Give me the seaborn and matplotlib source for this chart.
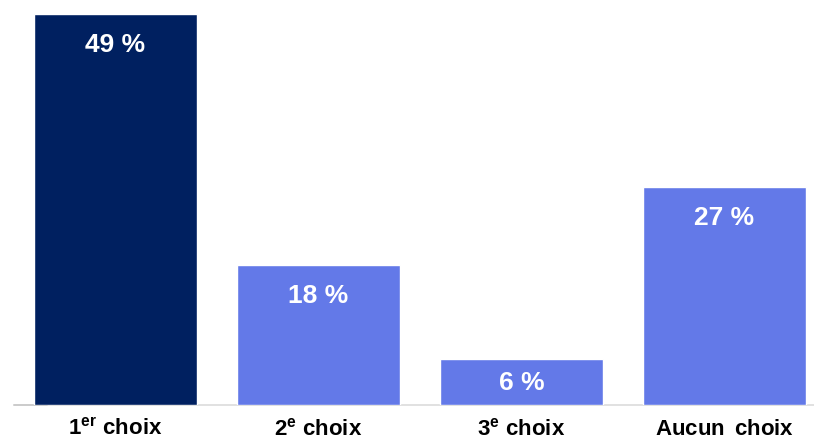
import matplotlib
matplotlib.use("Agg")
import matplotlib.pyplot as plt
import seaborn as sns
import pandas as pd
from matplotlib.transforms import blended_transform_factory, offset_copy

categories = ["1er choix", "2e choix", "3e choix", "Aucun choix"]
tick_labels = [r"$\mathrm{1^{er}\ choix}$", r"$\mathrm{2^{e}\ choix}$",
               r"$\mathrm{3^{e}\ choix}$", r"$\mathrm{Aucun\ \,choix}$"]
values = [49, 17.5, 5.8, 27.3]
value_labels = ["49 %", "18 %", "6 %", "27 %"]
bar_colors = ["#002060", "#6379E8", "#6379E8", "#6379E8"]

sns.set_style("white")
plt.rcParams["font.family"] = ["Liberation Sans", "DejaVu Sans"]
plt.rcParams["mathtext.fontset"] = "custom"
plt.rcParams["mathtext.rm"] = "Liberation Sans:bold"
plt.rcParams["mathtext.it"] = "Liberation Sans:bold"
plt.rcParams["mathtext.bf"] = "Liberation Sans:bold"

W, H = 814, 439
fig = plt.figure(figsize=(W / 100, H / 100), dpi=100)
ax = fig.add_axes([14 / W, 33 / H, 800 / W, 391 / H])

df = pd.DataFrame({"cat": categories, "val": values})
sns.barplot(data=df, x="cat", y="val", hue="cat", palette=bar_colors,
            width=0.8, saturation=1, legend=False, ax=ax)

ax.set_xlim(-0.5, 800 / 203 - 0.5)
ax.set_ylim(0, 49)
for s in ax.spines.values():
    s.set_visible(False)
ax.axhline(0, color="#DCDCDC", lw=1.2, clip_on=False, zorder=0)
ax.plot([0, 33 / 800], [0, 0], transform=ax.transAxes, color="#C8C8C8",
        lw=1.2, clip_on=False, zorder=0)
ax.set_yticks([])
ax.set_xticks([])
ax.set_xlabel("")
ax.set_ylabel("")

px_per_unit = 391 / 49
for i, (v, lab) in enumerate(zip(values, value_labels)):
    off_px = min(30, v * px_per_unit / 2)
    ax.annotate(lab, (i, v), xytext=(0, -off_px * 0.72), textcoords="offset points",
                ha="center", va="center", color="white", fontsize=19,
                fontweight="bold")

trans = blended_transform_factory(ax.transData, ax.transAxes)
for i, lab in enumerate(tick_labels):
    ax.text(i, 0, lab, transform=offset_copy(trans, fig=fig, x=0, y=-23.5 * 0.72, units="points"),
            ha="center", va="center", fontsize=16, color="#000000")

fig.savefig("out.png", dpi=100)
